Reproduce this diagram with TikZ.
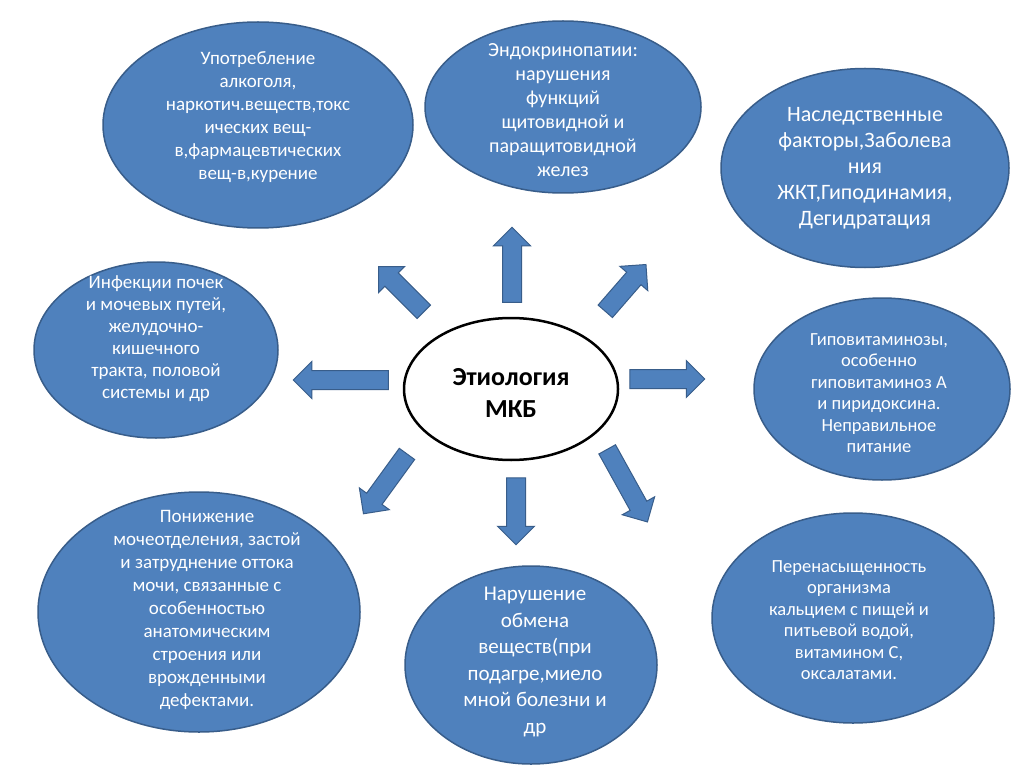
\documentclass[tikz,border=0pt]{standalone}
\usepackage{fontspec}
\setmainfont{Carlito}
\usetikzlibrary{shapes.geometric,shapes.arrows}
\definecolor{bubblefill}{HTML}{4F81BD}
\definecolor{bubbleline}{HTML}{385D8A}
\begin{document}
\begin{tikzpicture}[x=1pt,y=-1pt,
		bubble/.style={ellipse,fill=bubblefill,draw=bubbleline,line width=1.5pt,inner sep=0pt},
		btext/.style={text=white,align=center,font=\fontsize{19}{23}\selectfont},
		blockarr/.style={single arrow,fill=bubblefill,draw=bubbleline,line width=1pt,minimum width=36pt,single arrow head extend=9pt,inner xsep=0pt,inner ysep=9pt}]
		\useasboundingbox[fill=white] (0,0) rectangle (1024,767);
		\node[bubble,minimum width=310pt,minimum height=206pt] (alc) at (258,125) {};
		\node[bubble,minimum width=276pt,minimum height=172pt] (endo) at (563,107) {};
		\node[bubble,minimum width=288pt,minimum height=199pt] (hered) at (865,168) {};
		\node[bubble,minimum width=244pt,minimum height=176pt] (infect) at (156,350) {};
		\node[bubble,minimum width=256pt,minimum height=182pt] (hypovit) at (882,389) {};
		\node[bubble,minimum width=322pt,minimum height=240pt] (urine) at (199,612) {};
		\node[bubble,minimum width=252pt,minimum height=198pt] (metab) at (531,665) {};
		\node[bubble,minimum width=282pt,minimum height=210pt] (calc) at (853,618) {};
		\node[btext] (alctext) at (alc.center) [yshift=8pt] {Употребление\\алкоголя,\\наркотич.веществ,токс\\ических вещ-\\в,фармацевтических\\вещ-в,курение};
		\node[btext,font=\fontsize{20}{24}\selectfont] (endotext) at (endo.center) [yshift=-3pt] {Эндокринопатии:\\нарушения\\функций\\щитовидной и\\паращитовидной\\желез};
		\node[btext,font=\fontsize{22}{26}\selectfont] (heredtext) at (hered.center) [yshift=0pt] {Наследственные\\факторы,Заболева\\ния\\ЖКТ,Гиподинамия,\\Дегидратация};
		\node[btext,font=\fontsize{19}{22}\selectfont] (infecttext) at (infect.center) [yshift=11pt] {Инфекции почек\\и мочевых путей,\\желудочно-\\кишечного\\тракта, половой\\системы и др};
		\node[btext,font=\fontsize{18.5}{21.5}\selectfont] (hypovittext) at (hypovit.center) [xshift=-3pt,yshift=-4pt] {Гиповитаминозы,\\особенно\\гиповитаминоз А\\и пиридоксина.\\Неправильное\\питание};
		\node[btext] (urinetext) at (urine.center) [xshift=8pt,yshift=2pt] {Понижение\\мочеотделения, застой\\и затруднение оттока\\мочи, связанные с\\особенностью\\анатомическим\\строения или\\врожденными\\дефектами.};
		\node[btext,font=\fontsize{21}{26.5}\selectfont] (metabtext) at (metab.center) [xshift=4pt,yshift=3pt] {Нарушение\\обмена\\веществ(при\\подагре,миело\\мной болезни и\\др};
		\node[btext,font=\fontsize{18.5}{21.5}\selectfont] (calctext) at (calc.center) [xshift=-4pt,yshift=-2pt] {Перенасыщенность\\организма\\кальцием с пищей и\\питьевой водой,\\витамином С,\\оксалатами.};
		\node[ellipse,draw=black,fill=white,line width=2.5pt,minimum width=214pt,minimum height=142pt] (etio) at (511,389) {};
		\node[align=center,font=\bfseries\fontsize{26}{32}\selectfont] (etiotext) at (etio.center) [yshift=-4pt] {Этиология\\МКБ};
		\node[blockarr,minimum height=75pt,rotate=90] (arrN) at (512,269.5) {};
		\node[blockarr,minimum height=62pt,rotate=49] (arrNE) at (622.5,291.5) {};
		\node[blockarr,minimum height=64pt,rotate=135] (arrNW) at (404.5,292.5) {};
		\node[blockarr,minimum height=95pt,rotate=180] (arrW) at (345.5,380) {};
		\node[blockarr,minimum height=75pt,rotate=0] (arrE) at (662.5,379) {};
		\node[blockarr,minimum height=74pt,rotate=234] (arrSW) at (388,480) {};
		\node[blockarr,minimum height=67pt,rotate=270] (arrS) at (516,506.5) {};
		\node[blockarr,minimum height=83pt,rotate=-61] (arrSE) at (625,481.5) {};
	\end{tikzpicture}
\end{document}
